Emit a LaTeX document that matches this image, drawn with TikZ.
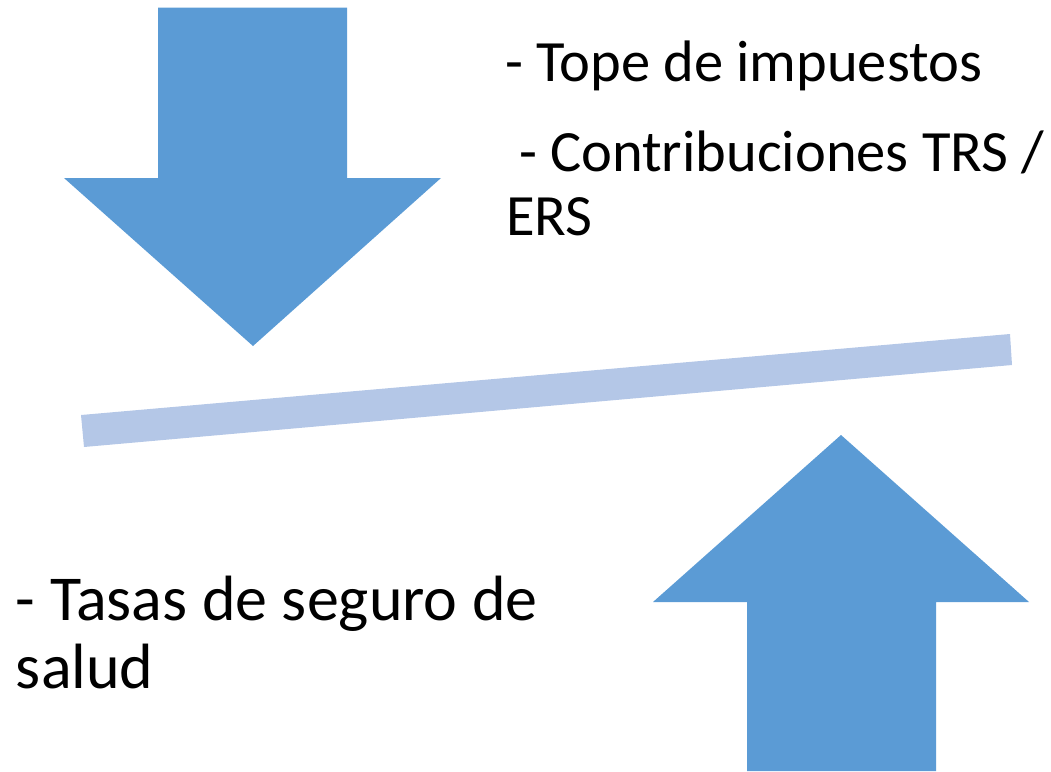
\documentclass[tikz,border=0pt]{standalone}
\usepackage{fontspec}
\setmainfont{Carlito}
\definecolor{arrowblue}{HTML}{5B9BD5}
\definecolor{barblue}{HTML}{B4C7E7}
\tikzset{
  bigarrow/.style={fill=arrowblue, draw=none},
  beam/.style={fill=barblue, draw=none},
  toptext/.style={anchor=base west, inner sep=0pt, outer sep=0pt, font=\fontsize{58.5}{63.5}\selectfont},
  bottext/.style={anchor=base west, inner sep=0pt, outer sep=0pt, font=\fontsize{64}{68}\selectfont}
}
\begin{document}
\begin{tikzpicture}[x=1pt, y=-1pt]
  \useasboundingbox (0,0) rectangle (1051,771);
  % down arrow
  \fill[bigarrow] (158,7.5) -- (347,7.5) -- (347,178) -- (441,178) -- (253,346) -- (64,178) -- (158,178) -- cycle;
  % up arrow
  \fill[bigarrow] (747,771) -- (747,602) -- (653,602) -- (841,435) -- (1029,602) -- (936,602) -- (936,771) -- cycle;
  % tilted beam
  \fill[beam] (81,415) -- (1010,334) -- (1012,365) -- (84,447) -- cycle;
  % texts
  \node[toptext] (t1) at (505,81.7) {- Tope de impuestos};
  \node[toptext] (t2) at (519,171.7) {- Contribuciones TRS /};
  \node[toptext] (t3) at (506,235) {ERS};
  \node[bottext] (b1) at (16,620.7) {- Tasas de seguro de};
  \node[bottext] (b2) at (16,688) {salud};
\end{tikzpicture}
\end{document}
